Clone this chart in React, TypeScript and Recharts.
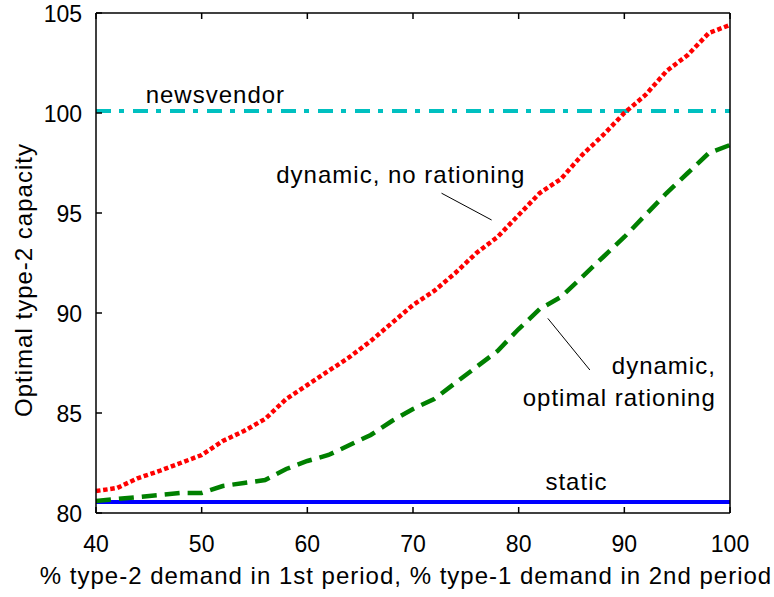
import React from "react";
import { LineChart, Line, XAxis, YAxis, ReferenceLine, ReferenceDot } from "recharts";

const X_VALUES = [40, 42, 44, 46, 48, 50, 52, 54, 56, 58, 60, 62, 64, 66, 68, 70, 72, 74, 76, 78, 80, 82, 84, 86, 88, 90, 92, 94, 96, 98, 100];
const NO_RATIONING = [81.1, 81.25, 81.75, 82.1, 82.5, 82.9, 83.6, 84.1, 84.7, 85.7, 86.4, 87.1, 87.8, 88.6, 89.5, 90.4, 91.1, 92.0, 93.0, 93.8, 94.9, 96.0, 96.7, 97.9, 98.9, 100.0, 100.9, 102.1, 102.9, 104.0, 104.4];
const OPTIMAL_RATIONING = [80.6, 80.7, 80.8, 80.9, 81.0, 81.0, 81.35, 81.5, 81.65, 82.2, 82.6, 82.9, 83.4, 83.9, 84.6, 85.2, 85.7, 86.5, 87.3, 88.1, 89.2, 90.2, 90.8, 91.8, 92.8, 93.8, 94.9, 96.0, 97.0, 98.0, 98.4];
const NEWSVENDOR = 100.1;
const STATIC = 80.55;
const X_TICKS = [40, 50, 60, 70, 80, 90, 100];
const Y_TICKS = [80, 85, 90, 95, 100, 105];

const data = X_VALUES.map((x, i) => ({ x, noRat: NO_RATIONING[i], optRat: OPTIMAL_RATIONING[i] }));

const FONT = "'Liberation Sans', Arial, sans-serif";
const FS = 24;
const TICK_FS = 23;

const BottomTick = (p: any) => (
  <g>
    <line x1={p.x} y1={p.y} x2={p.x} y2={p.y - 6} stroke="#000" strokeWidth={1.5} />
    <text x={p.x} y={p.y + 39} textAnchor="middle" fontSize={TICK_FS} fontFamily={FONT} fill="#000">{p.payload.value}</text>
  </g>
);
const TopTick = (p: any) => <line x1={p.x} y1={p.y} x2={p.x} y2={p.y + 6} stroke="#000" strokeWidth={1.5} />;
const LeftTick = (p: any) => (
  <g>
    <line x1={p.x} y1={p.y} x2={p.x + 6} y2={p.y} stroke="#000" strokeWidth={1.5} />
    <text x={p.x - 14} y={p.y + 8.5} textAnchor="end" fontSize={TICK_FS} fontFamily={FONT} fill="#000">{p.payload.value}</text>
  </g>
);
const RightTick = (p: any) => <line x1={p.x} y1={p.y} x2={p.x - 6} y2={p.y} stroke="#000" strokeWidth={1.5} />;

const note = (lines: string[], anchor: "start" | "middle" | "end") => (p: any) => (
  <text x={p.cx} y={p.cy} textAnchor={anchor} fontSize={FS} letterSpacing={1} fontFamily={FONT} fill="#000">
    {lines.map((l, i) => (
      <tspan key={i} x={p.cx} dy={i === 0 ? 0 : 32}>{l}</tspan>
    ))}
  </text>
);

const axisLine = { stroke: "#000", strokeWidth: 1.5 };

export default function App() {
  return (
    <div style={{ position: "absolute", left: 0, top: 0, background: "#fff" }}>
      <LineChart width={774} height={597} data={data} margin={{ top: 12, right: 43, left: 95, bottom: 83 }}>
        <XAxis
          dataKey="x" type="number" domain={[40, 100]} ticks={X_TICKS} interval={0}
          height={1} tickSize={0} tickMargin={0} tickLine={false} tick={BottomTick} axisLine={axisLine}
          label={{
            content: ({ viewBox }: any) => (
              <text x={viewBox.x + viewBox.width / 2 - 7} y={viewBox.y + 71} textAnchor="middle" fontSize={FS} letterSpacing={1} fontFamily={FONT} fill="#000">
                % type-2 demand in 1st period, % type-1 demand in 2nd period
              </text>
            ),
          }}
        />
        <XAxis
          xAxisId="top" orientation="top" dataKey="x" type="number" domain={[40, 100]} ticks={X_TICKS} interval={0}
          height={1} tickSize={0} tickMargin={0} tickLine={false} tick={TopTick} axisLine={axisLine}
        />
        <YAxis
          type="number" domain={[80, 105]} ticks={Y_TICKS} interval={0}
          width={1} tickSize={0} tickMargin={0} tickLine={false} tick={LeftTick} axisLine={axisLine}
          label={{
            content: ({ viewBox }: any) => (
              <text transform={`translate(${viewBox.x + viewBox.width - 64},${viewBox.y + viewBox.height / 2 + 17}) rotate(-90)`} textAnchor="middle" fontSize={FS} letterSpacing={1} fontFamily={FONT} fill="#000">
                Optimal type-2 capacity
              </text>
            ),
          }}
        />
        <YAxis
          yAxisId="right" orientation="right" type="number" domain={[80, 105]} ticks={Y_TICKS} interval={0}
          width={1} tickSize={0} tickMargin={0} tickLine={false} tick={RightTick} axisLine={axisLine}
        />

        <ReferenceLine y={NEWSVENDOR} stroke="#00c0c0" strokeWidth={4} strokeDasharray="15 8 5 9" />
        <ReferenceLine y={STATIC} stroke="#0000ff" strokeWidth={4} />

        <Line dataKey="noRat" type="linear" stroke="#ff0000" strokeWidth={4.5} strokeDasharray="4.5 2.7" dot={false} isAnimationActive={false} />
        <Line dataKey="optRat" type="linear" stroke="#008000" strokeWidth={4.5} strokeDasharray="15 8" dot={false} isAnimationActive={false} />

        <ReferenceLine segment={[{ x: 72.7, y: 95.99 }, { x: 77.44, y: 94.65 }]} stroke="#000" strokeWidth={1} />
        <ReferenceLine segment={[{ x: 82.76, y: 89.73 }, { x: 86.74, y: 87.15 }]} stroke="#000" strokeWidth={1} />

        <ReferenceDot x={44.7} y={100.5} r={0} shape={note(["newsvendor"], "start")} />
        <ReferenceDot x={68.85} y={96.5} r={0} shape={note(["dynamic, no rationing"], "middle")} />
        <ReferenceDot x={98.66} y={86.95} r={0} shape={note(["dynamic,", "optimal rationing"], "end")} />
        <ReferenceDot x={85.47} y={81.15} r={0} shape={note(["static"], "middle")} />
      </LineChart>
    </div>
  );
}
